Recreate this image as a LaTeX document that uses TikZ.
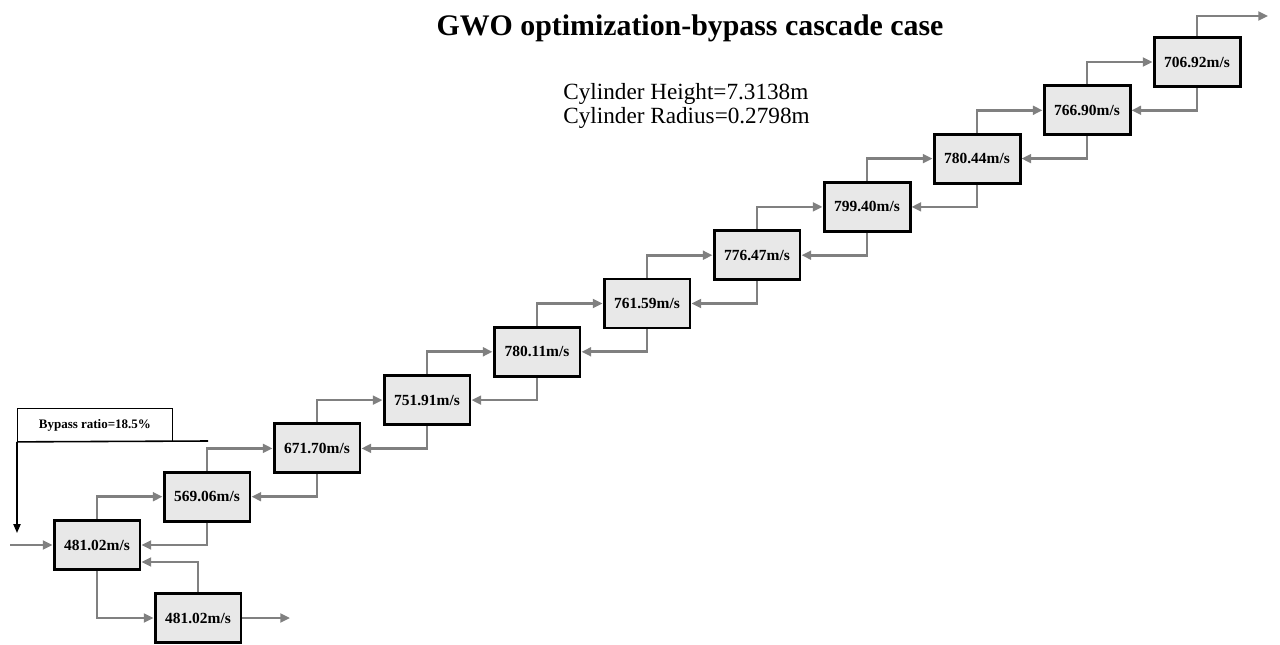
\documentclass[tikz,border=0pt]{standalone}
\usepackage{fontspec}
\setmainfont{Liberation Serif}
\usetikzlibrary{arrows.meta}
\definecolor{pipegray}{HTML}{808080}
\definecolor{stagefill}{HTML}{E8E8E8}
\tikzset{
  stage/.style={draw,line width=1.7pt,fill=stagefill,minimum width=1.72cm,minimum height=0.98cm,inner sep=0pt,font=\bfseries\fontsize{8.8}{10}\selectfont},
  flow/.style={draw=pipegray,line width=1.5pt,-{Triangle[length=5.5pt,width=5pt]}},
}

\begin{document}
\begin{tikzpicture}[x=0.02cm,y=-0.02cm]
  \useasboundingbox (0,0) rectangle (1280,645);
  \pgfmathsetmacro{\dx}{110}
  \pgfmathsetmacro{\dy}{48.3}
  \node[font=\bfseries\fontsize{17}{20}\selectfont] (title) at (690,28) {GWO optimization-bypass cascade case};
  \node[anchor=north west,align=left,inner sep=0pt,font=\fontsize{13.2}{13.6}\selectfont] (geom) at (563,83) {Cylinder Height=7.3138m\\Cylinder Radius=0.2798m};
  \foreach \v [count=\i from 0] in {481.02,569.06,671.70,751.91,780.11,761.59,776.47,799.40,780.44,766.90,706.92}
    \node[stage] (b\i) at (97+\i*\dx,545-\i*\dy) {\v m/s};
  \node[stage] (s) at (198,618) {481.02m/s};
  \foreach \i [evaluate=\i as \j using int(\i+1)] in {0,...,9}{
    \draw[flow] (b\i.north) |- (b\j.west);
    \draw[flow] (b\j.south) |- (b\i.east);
  }
  \coordinate (inlet) at (10,545);
  \coordinate (outlet) at (290,618);
  \coordinate (exit) at (1268,16);
  \draw[flow] (inlet) -- (b0.west);
  \draw[flow] (b0.south) |- (s.west);
  \draw[flow] (s.north) |- ([yshift=-0.34cm]b0.east);
  \draw[flow] (s.east) -- (outlet);
  \draw[flow] (b10.north) |- (exit);
  \node[draw,line width=0.5pt,anchor=north west,minimum width=3.1cm,minimum height=0.66cm,inner sep=0pt,font=\bfseries\fontsize{7.4}{9}\selectfont] (ratio) at (17,408) {Bypass ratio=18.5\%};
  \coordinate (ratioend) at (208,441);
  \coordinate (feed) at (17,533);
  \draw[line width=0.9pt] (ratio.south west) -- (ratioend);
  \draw[line width=0.9pt,-{Triangle[length=5pt,width=4pt]}] (ratio.south west) -- (feed);
\end{tikzpicture}
\end{document}
